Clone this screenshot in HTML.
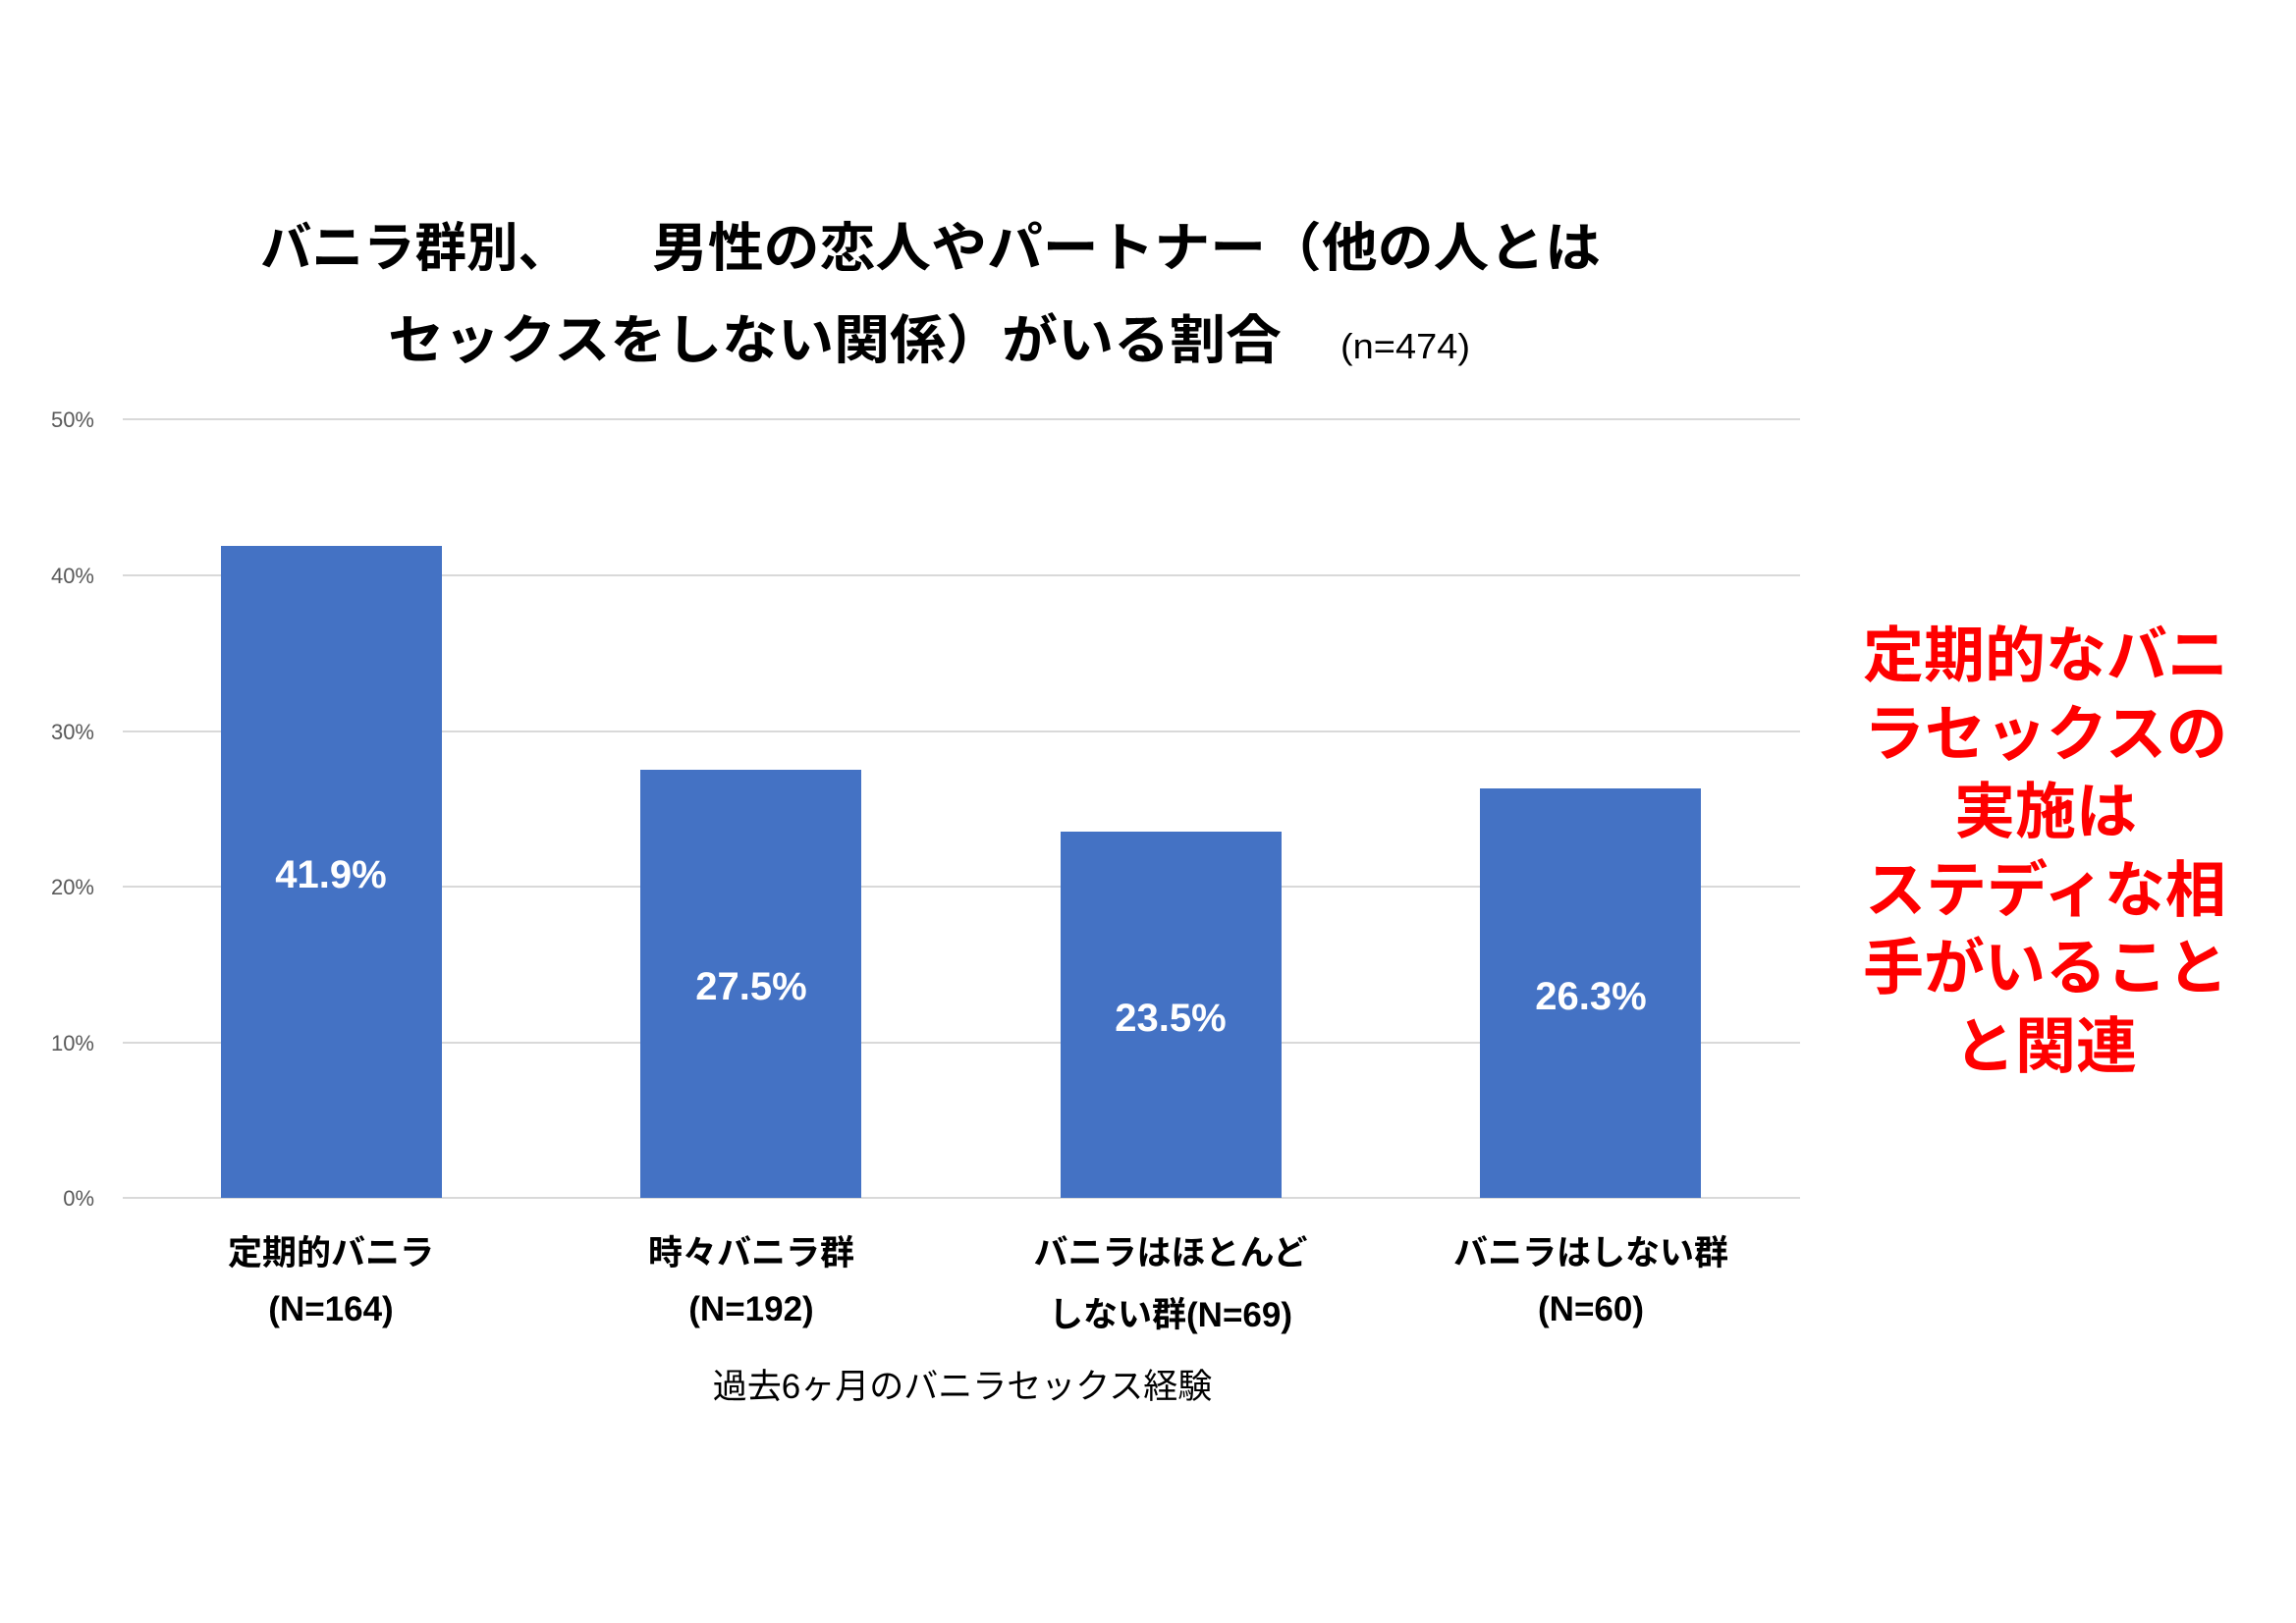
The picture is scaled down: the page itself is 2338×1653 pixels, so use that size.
<!DOCTYPE html>
<html><head><meta charset="utf-8">
<style>
html,body{margin:0;padding:0;background:#fff;}
svg{display:block;}
text{font-family:"Liberation Sans","Noto Sans CJK JP",sans-serif;}
</style></head>
<body>
<svg width="2338" height="1653" viewBox="0 0 2338 1653" xmlns="http://www.w3.org/2000/svg">
<rect width="2338" height="1653" fill="#fff"/>
<text x="265" y="271" font-size="54" font-weight="bold" fill="#000" textLength="315" lengthAdjust="spacingAndGlyphs">バニラ群別、</text>
<text x="664" y="271" font-size="54" font-weight="bold" fill="#000" textLength="966" lengthAdjust="spacingAndGlyphs">男性の恋人やパートナー（他の人とは</text>
<text x="395" y="365" font-size="54" font-weight="bold" fill="#000" textLength="910" lengthAdjust="spacingAndGlyphs">セックスをしない関係）がいる割合</text>
<text x="1365" y="365" font-size="36" fill="#000" textLength="132" lengthAdjust="spacingAndGlyphs">(n=474)</text>
<g stroke="#d9d9d9" stroke-width="2">
<line x1="125" y1="427" x2="1833" y2="427"/>
<line x1="125" y1="586" x2="1833" y2="586"/>
<line x1="125" y1="745" x2="1833" y2="745"/>
<line x1="125" y1="903" x2="1833" y2="903"/>
<line x1="125" y1="1062" x2="1833" y2="1062"/>
<line x1="125" y1="1220" x2="1833" y2="1220"/>
</g>
<g font-size="22" fill="#595959" text-anchor="end">
<text x="96" y="435">50%</text>
<text x="96" y="594">40%</text>
<text x="96" y="753">30%</text>
<text x="96" y="911">20%</text>
<text x="96" y="1070">10%</text>
<text x="96" y="1228">0%</text>
</g>
<g fill="#4472c4">
<rect x="225" y="556" width="225" height="664"/>
<rect x="652" y="784" width="225" height="436"/>
<rect x="1080" y="847" width="225" height="373"/>
<rect x="1507" y="803" width="225" height="417"/>
</g>
<g font-size="40" font-weight="bold" fill="#fff" text-anchor="middle">
<text x="337" y="904">41.9%</text>
<text x="765" y="1018">27.5%</text>
<text x="1192" y="1050">23.5%</text>
<text x="1620" y="1028">26.3%</text>
</g>
<g font-size="35" font-weight="bold" fill="#000" text-anchor="middle">
<text x="337" y="1288">定期的バニラ</text>
<text x="337" y="1345">(N=164)</text>
<text x="765" y="1288">時々バニラ群</text>
<text x="765" y="1345">(N=192)</text>
<text x="1192" y="1288">バニラはほとんど</text>
<text x="1192" y="1351">しない群(N=69)</text>
<text x="1620" y="1288">バニラはしない群</text>
<text x="1620" y="1345">(N=60)</text>
</g>
<text x="980" y="1424" font-size="35" fill="#000" text-anchor="middle">過去6ヶ月のバニラセックス経験</text>
<g font-size="62" font-weight="bold" fill="#ff0000" text-anchor="middle">
<text x="2083" y="689">定期的なバニ</text>
<text x="2083" y="769">ラセックスの</text>
<text x="2083" y="848">実施は</text>
<text x="2083" y="928">ステディな相</text>
<text x="2083" y="1007">手がいること</text>
<text x="2083" y="1087">と関連</text>
</g>
</svg>
</body></html>
